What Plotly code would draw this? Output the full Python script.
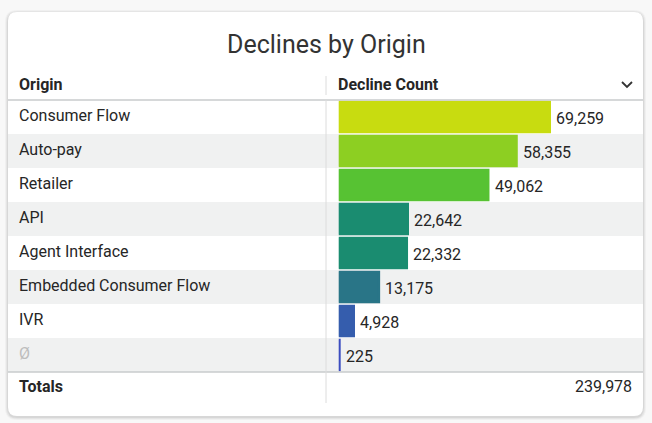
import plotly.graph_objects as go

W, H = 652, 423

origins = ["Consumer Flow", "Auto-pay", "Retailer", "API", "Agent Interface",
           "Embedded Consumer Flow", "IVR", "Ø"]
counts = [69259, 58355, 49062, 22642, 22332, 13175, 4928, 225]
bar_colors = ["#C8DC10", "#8DCF22", "#57C233", "#1A8C70", "#1A8C70",
              "#297587", "#355DAD", "#3C4EC0"]
total_label = "239,978"
title_text = "Declines by Origin"
col_headers = ["Origin", "Decline Count"]


def px(x):
    return x / W


def py(y):
    return 1 - y / H


def rrect(x0, y0, x1, y1, r):
    pts = [
        f"M {px(x0 + r)} {py(y0)}",
        f"L {px(x1 - r)} {py(y0)}",
        f"Q {px(x1)} {py(y0)} {px(x1)} {py(y0 + r)}",
        f"L {px(x1)} {py(y1 - r)}",
        f"Q {px(x1)} {py(y1)} {px(x1 - r)} {py(y1)}",
        f"L {px(x0 + r)} {py(y1)}",
        f"Q {px(x0)} {py(y1)} {px(x0)} {py(y1 - r)}",
        f"L {px(x0)} {py(y0 + r)}",
        f"Q {px(x0)} {py(y0)} {px(x0 + r)} {py(y0)}",
        "Z",
    ]
    return " ".join(pts)


FONT = "Roboto, Arial, sans-serif"
TXT = "#262626"

LW = 2.5
bar_x0 = 337.5 + LW / 2
span = 213.5 - LW
bar_x1 = 640
scale_max = 69259 * (bar_x1 - bar_x0) / span

fig = go.Figure()
fig.add_trace(go.Bar(
    x=counts, y=origins, orientation="h",
    marker=dict(color=bar_colors, line=dict(color=bar_colors, width=LW)),
    hoverinfo="skip",
))

shapes = []
for i, a in enumerate([0.03, 0.045, 0.06]):
    d = 3 - i
    shapes.append(dict(type="path", xref="paper", yref="paper", layer="below",
                       path=rrect(8 - d, 12 - d + 1, 643 + d, 416 + d + 1, 9 + d),
                       fillcolor=f"rgba(0,0,0,{a})", line=dict(width=0)))
shapes.append(dict(type="path", xref="paper", yref="paper", layer="below",
                   path=rrect(8, 12, 643, 416, 9),
                   fillcolor="#FFFFFF", line=dict(width=0)))
for i, o in enumerate(origins):
    if i % 2 == 1:
        shapes.append(dict(type="rect", xref="paper", yref="y", layer="below",
                           x0=px(8), x1=px(643), y0=i - 0.5, y1=i + 0.5,
                           fillcolor="#F0F1F1", line=dict(width=0)))
for yy in (100, 372):
    shapes.append(dict(type="line", xref="paper", yref="paper",
                       x0=px(8), x1=px(643), y0=py(yy), y1=py(yy),
                       line=dict(color="#C9CBCD", width=1.3)))
shapes.append(dict(type="line", xref="paper", yref="paper",
                   x0=px(326), x1=px(326), y0=py(76), y1=py(95),
                   line=dict(color="#DCDCDC", width=1)))
shapes.append(dict(type="line", xref="paper", yref="paper",
                   x0=px(326), x1=px(326), y0=py(100), y1=py(403),
                   line=dict(color="#DCDCDC", width=1)))
shapes.append(dict(type="path", xref="paper", yref="paper",
                   path=f"M {px(622)} {py(82)} L {px(627)} {py(87)} L {px(632)} {py(82)}",
                   line=dict(color="#333333", width=1.8)))

annotations = [
    dict(text=title_text, x=0.5, y=py(44), xref="paper", yref="paper",
         showarrow=False, font=dict(family=FONT, size=25, color="#333333"),
         xanchor="center", yanchor="middle"),
    dict(text=f"<b>{col_headers[0]}</b>", x=px(17), y=py(85), xref="paper", yref="paper",
         showarrow=False, font=dict(family=FONT, size=16, color=TXT),
         xanchor="left", yanchor="middle"),
    dict(text=f"<b>{col_headers[1]}</b>", x=px(336), y=py(85), xref="paper", yref="paper",
         showarrow=False, font=dict(family=FONT, size=16, color=TXT),
         xanchor="left", yanchor="middle"),
    dict(text="<b>Totals</b>", x=px(17), y=py(386), xref="paper", yref="paper",
         showarrow=False, font=dict(family=FONT, size=16, color=TXT),
         xanchor="left", yanchor="middle"),
    dict(text=total_label, x=px(634), y=py(386), xref="paper", yref="paper",
         showarrow=False, font=dict(family=FONT, size=16, color=TXT),
         xanchor="right", yanchor="middle"),
]
for o, v in zip(origins, counts):
    annotations.append(dict(text=o, x=px(17), y=o, xref="paper", yref="y",
                            showarrow=False, yshift=2,
                            font=dict(family=FONT, size=16,
                                      color="#BDBDBD" if o == "Ø" else TXT),
                            xanchor="left", yanchor="middle"))
    annotations.append(dict(text=f"{v:,}", x=v, y=o, xref="x", yref="y",
                            showarrow=False, xshift=4.5, yshift=-1,
                            font=dict(family=FONT, size=16, color=TXT),
                            xanchor="left", yanchor="middle"))

fig.update_layout(
    width=W, height=H, margin=dict(l=0, r=0, t=0, b=0),
    paper_bgcolor="#F8F8F8", plot_bgcolor="rgba(0,0,0,0)",
    showlegend=False, bargap=0.12,
    xaxis=dict(domain=[px(bar_x0), px(bar_x1)], range=[0, scale_max],
               visible=False, fixedrange=True),
    yaxis=dict(domain=[py(372), py(100)], categoryorder="array",
               categoryarray=origins, autorange="reversed",
               visible=False, fixedrange=True),
    shapes=shapes, annotations=annotations,
)

fig.write_html("out.html", config={"displayModeBar": False},
               post_script="document.body.style.margin='0';document.body.style.overflow='hidden';")
